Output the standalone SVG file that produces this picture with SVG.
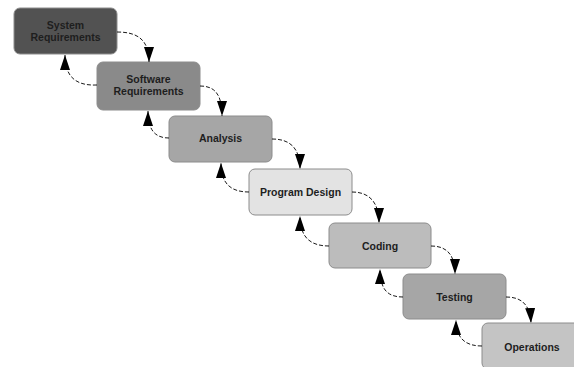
<svg xmlns="http://www.w3.org/2000/svg" width="574" height="367" viewBox="0 0 574 367">
<defs>
<marker id="ah" markerUnits="userSpaceOnUse" markerWidth="16" markerHeight="12" refX="15" refY="5" orient="auto">
<path d="M0,0 L15,5 L0,10 Z" fill="#000"/>
</marker>
<style>
.box{stroke:#8c8c8c;stroke-width:1}
.lbl{font-family:"Liberation Sans",Arial,sans-serif;font-size:10.5px;font-weight:bold;fill:#1e1e1e;text-anchor:middle}
.con{fill:none;stroke:#000;stroke-width:0.9;stroke-dasharray:4,2;marker-end:url(#ah)}
</style>
</defs>
<rect width="574" height="367" fill="#fff"/>
<g id="n1"><rect class="box" x="14" y="8" width="103" height="46" rx="6" fill="#525252"/><text class="lbl" x="65.5" y="29">System</text><text class="lbl" x="65.5" y="41">Requirements</text></g>
<g id="n2"><rect class="box" x="97" y="62" width="103" height="48" rx="6" fill="#8a8a8a"/><text class="lbl" x="148.5" y="83">Software</text><text class="lbl" x="148.5" y="95">Requirements</text></g>
<g id="n3"><rect class="box" x="169" y="116" width="103" height="46" rx="6" fill="#a6a6a6"/><text class="lbl" x="220.5" y="142">Analysis</text></g>
<g id="n4"><rect class="box" x="249" y="169" width="103" height="46" rx="6" fill="#e3e3e3"/><text class="lbl" x="300.5" y="196">Program Design</text></g>
<g id="n5"><rect class="box" x="329" y="223" width="102" height="45" rx="6" fill="#bcbcbc"/><text class="lbl" x="380" y="250">Coding</text></g>
<g id="n6"><rect class="box" x="403" y="274" width="103" height="45" rx="6" fill="#a6a6a6"/><text class="lbl" x="454.5" y="301">Testing</text></g>
<g id="n7"><rect class="box" x="482" y="323" width="103" height="46" rx="6" fill="#c4c4c4"/><text class="lbl" x="532" y="351">Operations</text></g>
<g id="connectors">
<path class="con" d="M117,32 C138,32 149,40 149,62"/>
<path class="con" d="M200,86 C216,86 222,96 222,116"/>
<path class="con" d="M272,139 C290,139 300,148 300,169"/>
<path class="con" d="M352,192 C370,192 379,203 379,223"/>
<path class="con" d="M431,246 C447,246 455,255 455,274"/>
<path class="con" d="M506,297 C522,297 530,305 531,323"/>
<path class="con" d="M97,85 C75,86 65,76 65,55"/>
<path class="con" d="M169,138 C155,138 148,130 148,111"/>
<path class="con" d="M249,192 C230,192 221,183 221,163"/>
<path class="con" d="M329,246 C310,246 300,237 300,216"/>
<path class="con" d="M403,297 C388,297 380,290 380,269"/>
<path class="con" d="M482,346 C466,346 456,339 456,320"/>
</g>
</svg>
